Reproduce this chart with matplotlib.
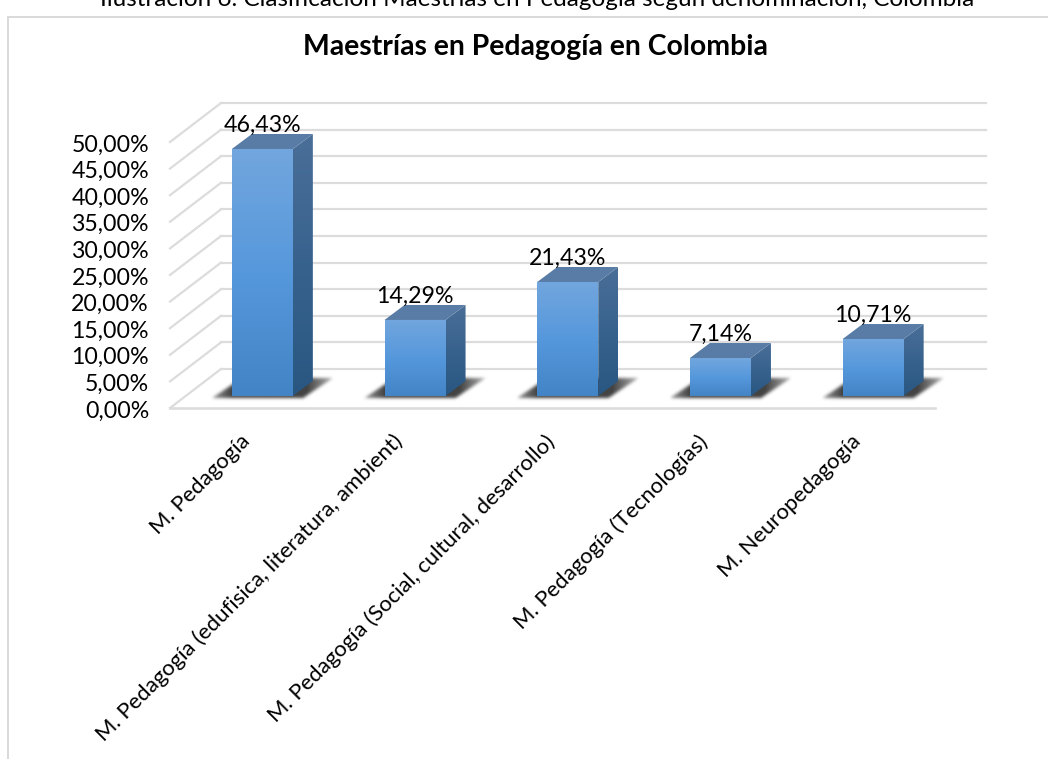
import numpy as np
import matplotlib
matplotlib.use("Agg")
import matplotlib.pyplot as plt
from matplotlib.patches import Polygon
from matplotlib.path import Path
from matplotlib.transforms import Affine2D
from matplotlib.colors import LinearSegmentedColormap

categories = ["M. Pedagogía", "M. Pedagogía (edufisica, literatura, ambient)",
              "M. Pedagogía (Social, cultural, desarrollo)", "M. Pedagogía (Tecnologías)",
              "M. Neuropedagogía"]
values = [46.43, 14.29, 21.43, 7.14, 10.71]
value_labels = ["46,43%", "14,29%", "21,43%", "7,14%", "10,71%"]
y_ticks = [0, 5, 10, 15, 20, 25, 30, 35, 40, 45, 50]
y_tick_labels = ["0,00%", "5,00%", "10,00%", "15,00%", "20,00%", "25,00%",
                 "30,00%", "35,00%", "40,00%", "45,00%", "50,00%"]
title = "Maestrías en Pedagogía en Colombia"
caption = "Ilustración 6. Clasificación Maestrías en Pedagogía según denominación, Colombia"

W, H = 1048, 759
plt.rcParams["font.family"] = ["Lato", "DejaVu Sans"]
fig = plt.figure(figsize=(W / 100, H / 100), dpi=100, facecolor="white")

L, R, B, T = 170, 933.5, 408, 142
ax = fig.add_axes([L / W, 1 - B / H, (R - L) / W, (B - T) / H])
ax.set_xlim(-0.5, 4.5)
ax.set_ylim(0, 50)
ax.axis("off")

base = ax.transData
def shifted(dx, dy):
    return base + Affine2D().translate(dx, dy)

DEPTH = (51, 39)
BARPOS = (16, 12)
BD = (20, 15)
HALF = 30.5 / 152.7
GRID = "#dcdcdc"
X_END = 4.51

wall = shifted(*DEPTH)
for t in y_ticks:
    ax.plot([-0.5, X_END], [t, t], transform=wall, color=GRID, lw=1.6, clip_on=False, zorder=1)
    x0, y0 = base.transform((-0.5, t))
    x1, y1 = wall.transform((-0.5, t))
    ax.plot([x0, x1], [y0, y1], transform=None, color=GRID, lw=1.6, clip_on=False, zorder=1)
ax.plot([-0.5, X_END], [0, 0], color=GRID, lw=1.9, clip_on=False, zorder=1)

def gradient(stops, n=128):
    cmap = LinearSegmentedColormap.from_list("g", stops)
    return cmap(np.linspace(0, 1, n))[:, None, :3]

def px_image(arr, x0, x1, y0, y1, clip, z):
    im = ax.imshow(arr, extent=(x0, x1, y0, y1), origin="upper", aspect="auto",
                   transform=None, zorder=z, interpolation="bilinear")
    im.set_clip_path(clip)
    im.set_clip_box(fig.bbox)
    return im

def blur(a, r):
    k = np.exp(-0.5 * (np.arange(-int(3 * r), int(3 * r) + 1) / r) ** 2)
    k /= k.sum()
    a = np.apply_along_axis(lambda m: np.convolve(m, k, mode="same"), 0, a)
    return np.apply_along_axis(lambda m: np.convolve(m, k, mode="same"), 1, a)

def shadow(fx0, fx1, fy0):
    x0, x1, y0, y1 = int(fx0) - 40, int(fx1) + 60, int(fy0) - 20, int(fy0) + 35
    xs, ys = np.meshgrid(np.arange(x0, x1) + 0.5, np.arange(y0, y1) + 0.5)
    poly = Path([(fx0 - 20, fy0 - 2), (fx1 + 10, fy0 - 2), (fx1 + 40, fy0 + 18), (fx0 + 10, fy0 + 18)])
    mask = poly.contains_points(np.c_[xs.ravel(), ys.ravel()]).reshape(xs.shape).astype(float)
    mask = blur(mask, 1.6)
    fade = np.clip(1 - np.maximum(fx0 - xs, xs - fx1 - 14) / 45, 0.3, 1)
    rgba = np.zeros(xs.shape + (4,))
    rgba[..., :3] = 0.18
    rgba[..., 3] = mask * fade * 0.9
    im = ax.imshow(rgba[::-1], extent=(x0, x1, y0, y1), origin="upper", aspect="auto",
                   transform=None, zorder=2, interpolation="bilinear")
    im.set_clip_on(False)

front_tr = shifted(*BARPOS)
for i, (v, lab) in enumerate(zip(values, value_labels)):
    (fx0, fy0) = front_tr.transform((i - HALF, 0))
    (fx1, fy1) = front_tr.transform((i + HALF, v))
    dx, dy = BD

    shadow(fx0, fx1, fy0)

    ax.add_patch(Polygon([(fx0, fy1), (fx1, fy1), (fx1 + dx, fy1 + dy), (fx0 + dx, fy1 + dy)],
                         closed=True, transform=None, fc="#587ca6", ec="none", zorder=4, clip_on=False))
    side = Polygon([(fx1, fy0), (fx1 + dx, fy0 + dy), (fx1 + dx, fy1 + dy), (fx1, fy1)],
                   closed=True, transform=None, fc="none", ec="none", zorder=3, clip_on=False)
    ax.add_patch(side)
    px_image(gradient(["#4a6f98", "#38628e", "#295782"]), fx1, fx1 + dx, fy0, fy1 + dy, side, 3)
    face = Polygon([(fx0, fy0), (fx1, fy0), (fx1, fy1), (fx0, fy1)],
                   closed=True, transform=None, fc="none", ec="none", zorder=5, clip_on=False)
    ax.add_patch(face)
    px_image(gradient(["#72a6de", "#5698dc", "#4384c6"]), fx0, fx1, fy0, fy1, face, 5)

    ax.text((fx0 + fx1) / 2, fy1 + 24, lab, transform=None, ha="center", va="center",
            fontsize=16.7, color="black", zorder=7)

ax.set_xlim(-0.5, 4.5)
ax.set_ylim(0, 50)

for t, lab in zip(y_ticks, y_tick_labels):
    ax.annotate(lab, (-0.5, t), xytext=(-21, -3), textcoords="offset pixels", ha="right",
                va="center", fontsize=16.7, color="black", annotation_clip=False)

for i, c in enumerate(categories):
    ax.annotate(c, (i, 0), xytext=(-7, -23), textcoords="offset pixels", ha="right", va="top",
                rotation=45, rotation_mode="anchor", fontsize=15.9, color="black",
                annotation_clip=False)

fig.add_artist(plt.Line2D([8 / W, 8 / W], [0, 1 - 17 / H], color="#d9d9d9", lw=1.4))
fig.add_artist(plt.Line2D([8 / W, 1], [1 - 17 / H, 1 - 17 / H], color="#d9d9d9", lw=1.4))
fig.text(535.5 / W, 1 - 47 / H, title, ha="center", va="center", fontsize=20.4, fontweight="bold")
fig.text(537.5 / W, 1 + 1 / H, caption, ha="center", va="center", fontsize=17.5)

fig.savefig("out.png", dpi=100)
